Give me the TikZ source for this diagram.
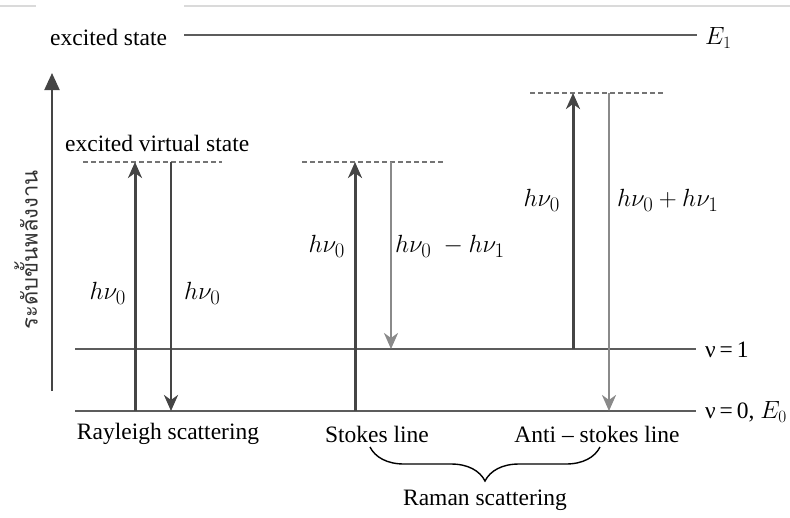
\documentclass[tikz,border=0pt]{standalone}
\usepackage{fontspec}
\setmainfont{Liberation Serif}
\newfontfamily\thaifont[Script=Thai]{Loma}
\usetikzlibrary{arrows.meta,decorations.pathreplacing}
\definecolor{levelgray}{HTML}{5C5C5C}
\definecolor{darkarrow}{HTML}{454545}
\definecolor{lightarrow}{HTML}{8A8A8A}
\definecolor{framegray}{HTML}{DADADA}
\tikzset{
  level/.style={draw=levelgray, line width=2.4pt},
  virtual/.style={draw=levelgray!85, line width=2.2pt, dash pattern=on 5pt off 3pt},
  absorb/.style={draw=darkarrow, line width=3pt,
    -{Stealth[length=16pt,width=14pt,inset=5pt]}},
  emitdark/.style={draw=darkarrow, line width=2.8pt,
    -{Stealth[length=16pt,width=14pt,inset=5pt]}},
  emitlight/.style={draw=lightarrow, line width=2.6pt,
    -{Stealth[length=16pt,width=14pt,inset=5pt]}},
  txt/.style={inner sep=0pt, font=\fontsize{23.5}{27}\selectfont},
  mathlbl/.style={inner sep=0pt, font=\fontsize{28}{32}\selectfont},
}
\begin{document}
\begin{tikzpicture}[x=1pt, y=-1pt]
\useasboundingbox (0,0) rectangle (790,517);

% faint frame line along the top
\draw[framegray, line width=1.5pt] (0,6) -- (36,6);
\draw[framegray, line width=1.5pt] (184,6) -- (790,6);

% energy axis
\coordinate (axisbot) at (52,391);
\coordinate (axistop) at (52,73);
\draw[line width=2pt, draw=darkarrow, -{Triangle[length=17pt,width=15pt]}] (axisbot) -- (axistop);
\node[rotate=90, inner sep=0pt, text=black!80, font=\thaifont\fontsize{22}{25}\selectfont] (axislbl) at (26,250) {ระดับขั้นพลังงาน};

% excited electronic state
\node[txt, anchor=west] (exlbl) at (50,37) {excited state};
\coordinate (exL) at (184,35);
\coordinate (exR) at (697,35);
\draw[level] (exL) -- (exR);
\node[anchor=west, inner sep=0pt, font=\fontsize{24}{28}\selectfont] (E1) at (705,38) {$E_1$};

% vibrational levels
\coordinate (v1L) at (75,349);
\coordinate (v1R) at (696,349);
\coordinate (v0L) at (75,411);
\coordinate (v0R) at (696,411);
\draw[level] (v1L) -- (v1R);
\draw[level] (v0L) -- (v0R);
\node[txt, anchor=west] (v1lbl) at (705,350) {ν\,=\,1};
\node[txt, anchor=west] (v0lbl) at (705,412) {ν\,=\,0, \fontsize{24}{28}\selectfont$E_0$};

% virtual states
\node[txt, anchor=west] (vslbl) at (65,143) {excited virtual state};
\coordinate (vrL) at (83,162);
\coordinate (vrR) at (222,162);
\coordinate (vsL) at (302,162);
\coordinate (vsR) at (443,162);
\coordinate (vaL) at (530,93);
\coordinate (vaR) at (663,93);
\draw[virtual] (vrL) -- (vrR);
\draw[virtual] (vsL) -- (vsR);
\draw[virtual] (vaL) -- (vaR);

% Rayleigh scattering
\coordinate (rUpB) at (135,411);
\coordinate (rUpT) at (135,162);
\coordinate (rDnT) at (171,162);
\coordinate (rDnB) at (171,411);
\draw[absorb] (rUpB) -- (rUpT);
\draw[emitdark] (rDnT) -- (rDnB);
\node[mathlbl, anchor=east] (rl1) at (126,293) {$h\nu_0$};
\node[mathlbl, anchor=west] (rl2) at (184,293) {$h\nu_0$};

% Stokes line
\coordinate (sUpB) at (355,411);
\coordinate (sUpT) at (355,162);
\coordinate (sDnT) at (391,162);
\coordinate (sDnB) at (391,349);
\draw[absorb] (sUpB) -- (sUpT);
\draw[emitlight] (sDnT) -- (sDnB);
\node[mathlbl, anchor=east] (sl1) at (345,246) {$h\nu_0$};
\node[mathlbl, anchor=west] (sl2) at (395,246) {$h\nu_0\;-h\nu_1$};

% anti-Stokes line
\coordinate (aUpB) at (573,349);
\coordinate (aUpT) at (573,93);
\coordinate (aDnT) at (609,93);
\coordinate (aDnB) at (609,411);
\draw[absorb] (aUpB) -- (aUpT);
\draw[emitlight] (aDnT) -- (aDnB);
\node[mathlbl, anchor=east] (al1) at (560,200) {$h\nu_0$};
\node[mathlbl, anchor=west] (al2) at (617,200) {$h\nu_0+h\nu_1$};

% process names
\node[txt] (rayname) at (168,434) {Rayleigh scattering};
\node[txt] (stkname) at (377,434) {Stokes line};
\node[txt] (antname) at (597,434) {Anti -- stokes line};

% brace grouping the Raman lines
\coordinate (brL) at (370,447);
\coordinate (brR) at (600,447);
\draw[line width=1.4pt, decorate, decoration={brace, amplitude=34pt, mirror}] (brL) -- (brR);
\node[txt] (ramname) at (485,500) {Raman scattering};
\end{tikzpicture}
\end{document}
